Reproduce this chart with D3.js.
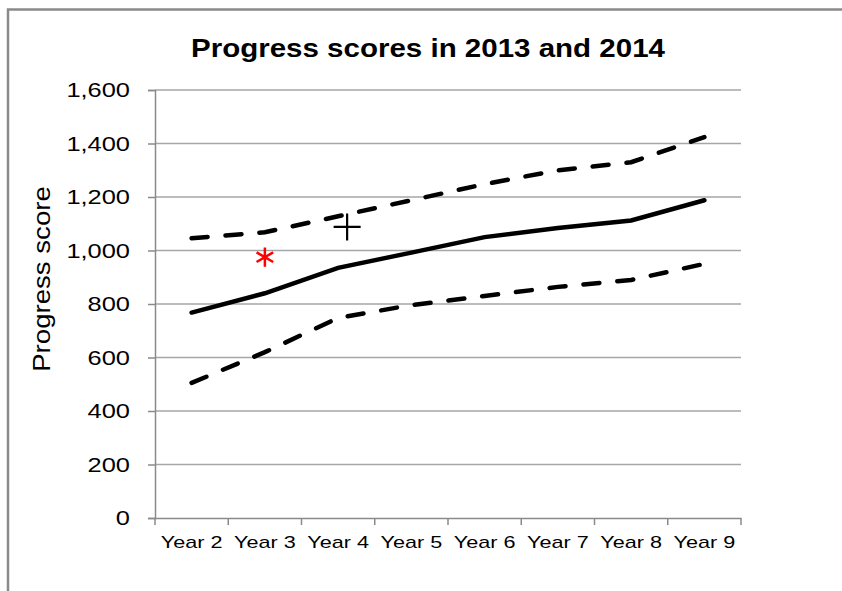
<!DOCTYPE html>
<html>
<head>
<meta charset="utf-8">
<script src="https://cdn.jsdelivr.net/npm/d3@7"></script>
<style>
  body { margin: 0; background: #fff; }
  svg { display: block; font-family: "Liberation Sans", Arial, sans-serif; }
</style>
</head>
<body>
<div id="chart"></div>
<script>
'use strict';

var years = ['Year 2', 'Year 3', 'Year 4', 'Year 5', 'Year 6', 'Year 7', 'Year 8', 'Year 9'];
var middle = [768, 840, 935, 992, 1050, 1084, 1112, 1188];
var upper = [1046, 1068, 1128, 1188, 1248, 1300, 1330, 1424];
var lower = [505, 620, 748, 796, 830, 864, 890, 950];
var yTicks = [0, 200, 400, 600, 800, 1000, 1200, 1400, 1600];
// single marks: 2013 (red asterisk) and 2014 (black cross)
var mark2013 = { year: 'Year 3', value: 975 };
var mark2014 = { year: 'Year 4', value: 1088 };

var scope = {
  width: 842,
  height: 591,
  margins: { left: 155, right: 101, top: 90, bottom: 73 }
};

function appendSvg(scope) {
  return d3.select('#chart').append('svg')
    .attr('width', scope.width)
    .attr('height', scope.height);
}

// the original text is drawn a bit wider than Arial
function stretch(sel, k) {
  sel.each(function() {
    var len = this.getComputedTextLength();
    d3.select(this)
      .attr('textLength', len * k)
      .attr('lengthAdjust', 'spacingAndGlyphs');
  });
}

scope.svg = appendSvg(scope);
var svg = scope.svg;
var m = scope.margins;

// frame
svg.append('path')
  .attr('d', 'M8,' + scope.height + 'V9.5H' + scope.width)
  .attr('fill', 'none')
  .attr('stroke', '#8a8a8a')
  .attr('stroke-width', 2.5);

var x = d3.scaleBand()
  .domain(years)
  .range([m.left, scope.width - m.right]);

var y = d3.scaleLinear()
  .domain([0, 1600])
  .range([scope.height - m.bottom, m.top]);

function cx(d) { return x(d) + x.bandwidth() / 2; }

// gridlines
svg.append('g')
  .selectAll('line')
  .data(yTicks.slice(1))
  .enter().append('line')
  .attr('x1', m.left)
  .attr('x2', scope.width - m.right)
  .attr('y1', function(d) { return y(d); })
  .attr('y2', function(d) { return y(d); })
  .attr('stroke', '#a6a6a6')
  .attr('stroke-width', 1.5);

// y axis
var yAxis = svg.append('g')
  .attr('transform', 'translate(' + m.left + ',0)')
  .call(d3.axisLeft(y).tickValues(yTicks).tickFormat(d3.format(',')).tickSize(7).tickPadding(18));
yAxis.select('.domain').attr('stroke', '#8a8a8a').attr('stroke-width', 1.5);
yAxis.selectAll('.tick line').attr('stroke', '#8a8a8a').attr('stroke-width', 1.5);
yAxis.selectAll('.tick text')
  .attr('font-family', '"Liberation Sans", Arial, sans-serif')
  .attr('font-size', 21)
  .attr('fill', '#000')
  .call(stretch, 1.21);

// x axis
var xAxisY = scope.height - m.bottom;
var xAxis = svg.append('g')
  .attr('transform', 'translate(0,' + xAxisY + ')')
  .call(d3.axisBottom(x).tickSize(0).tickPadding(18));
xAxis.select('.domain').attr('stroke', '#8a8a8a').attr('stroke-width', 1.5);
xAxis.selectAll('.tick text')
  .attr('font-family', '"Liberation Sans", Arial, sans-serif')
  .attr('font-size', 17)
  .attr('fill', '#000')
  .call(stretch, 1.27);

// tick marks between categories
var bounds = years.map(function(d) { return x(d); }).concat([x.range()[1]]);
xAxis.selectAll('line.sep')
  .data(bounds)
  .enter().append('line')
  .attr('class', 'sep')
  .attr('x1', function(d) { return d; })
  .attr('x2', function(d) { return d; })
  .attr('y1', 0)
  .attr('y2', 7)
  .attr('stroke', '#8a8a8a')
  .attr('stroke-width', 1.5);

// lines
var line = d3.line()
  .x(function(d, i) { return cx(years[i]); })
  .y(function(d) { return y(d); });

svg.append('path')
  .datum(upper)
  .attr('d', line)
  .attr('fill', 'none')
  .attr('stroke', '#000')
  .attr('stroke-width', 4.5)
  .attr('stroke-linecap', 'round')
  .attr('stroke-dasharray', '16,18');

svg.append('path')
  .datum(lower)
  .attr('d', line)
  .attr('fill', 'none')
  .attr('stroke', '#000')
  .attr('stroke-width', 4.5)
  .attr('stroke-linecap', 'round')
  .attr('stroke-dasharray', '16,18');

svg.append('path')
  .datum(middle)
  .attr('d', line)
  .attr('fill', 'none')
  .attr('stroke', '#000')
  .attr('stroke-width', 4.5)
  .attr('stroke-linecap', 'round');

// markers
svg.append('path')
  .attr('d', d3.symbol(d3.symbolAsterisk, 260))
  .attr('transform', 'translate(' + cx(mark2013.year) + ',' + y(mark2013.value) + ')')
  .attr('fill', 'none')
  .attr('stroke', '#ff0000')
  .attr('stroke-width', 2.5);

svg.append('path')
  .attr('d', d3.symbol(d3.symbolPlus, 240))
  .attr('transform', 'translate(' + (cx(mark2014.year) + 9) + ',' + y(mark2014.value) + ')')
  .attr('fill', 'none')
  .attr('stroke', '#000')
  .attr('stroke-width', 2.2);

// titles
svg.append('text')
  .attr('x', 428)
  .attr('y', 57)
  .attr('text-anchor', 'middle')
  .attr('font-size', 25)
  .attr('font-weight', 'bold')
  .text('Progress scores in 2013 and 2014')
  .call(stretch, 1.18);

svg.append('text')
  .attr('transform', 'translate(50,' + 279 + ') rotate(-90)')
  .attr('text-anchor', 'middle')
  .attr('font-size', 23)
  .text('Progress score')
  .call(stretch, 1.2);
</script>
</body>
</html>
